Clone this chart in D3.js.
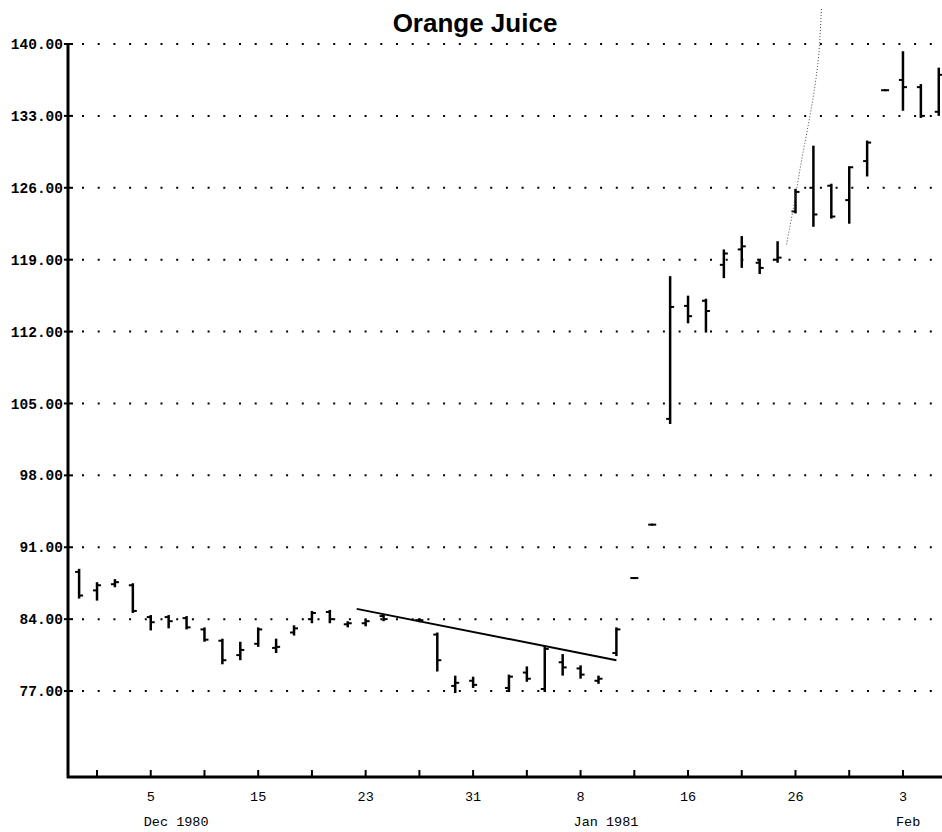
<!DOCTYPE html>
<html lang="en">
  <head>
    <meta charset="UTF-8" />
    <title>Orange Juice</title>
    <script src="https://d3js.org/d3.v7.min.js"></script>
    <style>
      body { margin: 0; background: #fff; }
      svg { display: block; }
    </style>
  </head>
  <body>
    <div id="chart"></div>
    <script>
      // trading days (weekday index from Mon Dec 1 1980)
      const days = [
        'Dec 1', 'Dec 2', 'Dec 3', 'Dec 4', 'Dec 5', 'Dec 8', 'Dec 9', 'Dec 10',
        'Dec 11', 'Dec 12', 'Dec 15', 'Dec 16', 'Dec 17', 'Dec 18', 'Dec 19',
        'Dec 22', 'Dec 23', 'Dec 24', 'Dec 26', 'Dec 29', 'Dec 30', 'Dec 31',
        'Jan 2', 'Jan 5', 'Jan 6', 'Jan 7', 'Jan 8', 'Jan 9', 'Jan 12', 'Jan 13',
        'Jan 14', 'Jan 15', 'Jan 16', 'Jan 19', 'Jan 20', 'Jan 21', 'Jan 22',
        'Jan 23', 'Jan 26', 'Jan 27', 'Jan 28', 'Jan 29', 'Jan 30', 'Feb 2',
        'Feb 3', 'Feb 4', 'Feb 5'
      ];
      const dayIndex = [
        0, 1, 2, 3, 4, 5, 6, 7, 8, 9, 10, 11, 12, 13, 14, 15, 16, 17, 19, 20,
        21, 22, 24, 25, 26, 27, 28, 29, 30, 31, 32, 33, 34, 35, 36, 37, 38, 39,
        40, 41, 42, 43, 44, 45, 46, 47, 48
      ];
      const open = [
        88.6, 86.8, 87.4, 87.3, 84.2, 84.2, 84.1, 83.0, 81.9, 80.5, 81.6, 81.2,
        82.7, 84.0, 84.7, 83.5, 83.6, 84.3, 83.9, 82.5, 77.5, 78.0, 77.3, 78.8,
        77.2, 79.8, 79.2, 78.0, 80.7, 88.0, 93.2, 103.5, 114.5, 115.0, 118.5,
        120.0, 118.7, 119.0, 123.7, 126.0, 126.2, 124.8, 128.6, 135.5, 136.5,
        135.8, 133.4
      ];
      const high = [
        88.8, 87.5, 87.8, 87.4, 84.3, 84.3, 84.2, 83.1, 82.0, 81.7, 83.1, 82.0,
        83.3, 84.7, 84.8, 83.7, 83.9, 84.4, 84.0, 82.6, 78.4, 78.3, 78.5, 79.3,
        81.3, 80.5, 79.4, 78.4, 83.1, 88.0, 93.2, 117.3, 115.4, 115.1, 119.9,
        121.2, 119.0, 120.7, 125.8, 130.0, 126.3, 128.0, 130.5, 135.5, 139.2,
        136.0, 137.6
      ];
      const low = [
        86.1, 85.9, 87.2, 84.7, 83.0, 83.2, 83.1, 81.9, 79.7, 80.1, 81.4, 80.8,
        82.5, 83.7, 83.7, 83.3, 83.4, 83.9, 83.8, 79.0, 76.9, 77.4, 77.0, 78.0,
        77.0, 78.6, 78.3, 77.8, 80.5, 88.0, 93.2, 103.1, 112.9, 112.0, 117.3,
        118.3, 117.7, 118.8, 123.6, 122.3, 123.1, 122.6, 127.2, 135.5, 133.6,
        132.9, 133.1
      ];
      const close = [
        86.3, 87.3, 87.6, 84.8, 83.7, 83.8, 83.2, 82.0, 80.0, 81.0, 83.0, 81.3,
        83.1, 84.6, 84.0, 83.6, 83.8, 84.0, 83.9, 80.0, 77.8, 77.6, 78.4, 78.2,
        81.1, 79.3, 78.6, 78.2, 83.0, 88.0, 93.2, 114.4, 113.5, 114.0, 119.6,
        120.3, 118.2, 119.2, 125.6, 123.4, 123.2, 128.0, 130.4, 135.5, 135.8,
        133.0, 137.0
      ];

      const yTicks = [140, 133, 126, 119, 112, 105, 98, 91, 84, 77];
      const xTickIndex = [1, 4, 7, 10, 13, 16, 19, 22, 25, 28, 31, 34, 37, 40, 43, 46];
      const xLabelIndex = [4, 10, 16, 22, 28, 34, 40, 46];
      const xLabels = ['5', '15', '23', '31', '8', '16', '26', '3'];
      const monthIndex = [4, 28, 46];
      const monthLabels = ['Dec 1980', 'Jan 1981', 'Feb'];

      // hand-drawn trend line and dotted curve
      const trendIndex = [15.5, 30];
      const trendValue = [85.0, 80.0];
      const curveIndex = [39.5, 39.9, 40.3, 40.7, 41.05, 41.3, 41.45];
      const curveValue = [120.5, 124.2, 128.3, 132.0, 135.5, 139.0, 143.5];

      const width = 942;
      const height = 832;

      const x = d3.scaleLinear().domain([-0.62, 48.18]).range([68, 942]);
      const y = d3.scaleLinear().domain([68.63, 140]).range([777, 44]);

      const svg = d3
        .select('#chart')
        .append('svg')
        .attr('width', width)
        .attr('height', height);

      svg
        .append('text')
        .attr('x', 475)
        .attr('y', 32)
        .attr('text-anchor', 'middle')
        .attr('font-family', 'Liberation Sans, Arial, sans-serif')
        .attr('font-weight', 'bold')
        .attr('font-size', 26)
        .text('Orange Juice');

      // dotted grid
      svg
        .append('g')
        .selectAll('line')
        .data(yTicks)
        .enter()
        .append('line')
        .attr('x1', 72)
        .attr('x2', width)
        .attr('y1', (d) => y(d))
        .attr('y2', (d) => y(d))
        .attr('stroke', '#000')
        .attr('stroke-width', 2)
        .attr('stroke-dasharray', '2,13.7')
        .attr('stroke-dashoffset', -10);

      // y axis
      const yAxis = svg.append('g');
      yAxis
        .append('line')
        .attr('x1', 68)
        .attr('x2', 68)
        .attr('y1', y(140) - 1)
        .attr('y2', 778)
        .attr('stroke', '#000')
        .attr('stroke-width', 3);
      yAxis
        .selectAll('line.tick')
        .data(yTicks)
        .enter()
        .append('line')
        .attr('class', 'tick')
        .attr('x1', 64)
        .attr('x2', 73)
        .attr('y1', (d) => y(d))
        .attr('y2', (d) => y(d))
        .attr('stroke', '#000')
        .attr('stroke-width', 2);
      yAxis
        .selectAll('text')
        .data(yTicks)
        .enter()
        .append('text')
        .attr('x', 63)
        .attr('y', (d) => y(d))
        .attr('dy', '0.35em')
        .attr('text-anchor', 'end')
        .attr('font-family', 'Liberation Mono, Courier New, monospace')
        .attr('font-weight', 'bold')
        .attr('font-size', 14.5)
        .text((d) => d3.format('.2f')(d));

      // x axis
      const xAxis = svg.append('g');
      xAxis
        .append('line')
        .attr('x1', 67)
        .attr('x2', width)
        .attr('y1', 777)
        .attr('y2', 777)
        .attr('stroke', '#000')
        .attr('stroke-width', 3);
      xAxis
        .selectAll('line.tick')
        .data(xTickIndex)
        .enter()
        .append('line')
        .attr('class', 'tick')
        .attr('x1', (d) => x(d))
        .attr('x2', (d) => x(d))
        .attr('y1', 770)
        .attr('y2', 777)
        .attr('stroke', '#000')
        .attr('stroke-width', 2);
      xAxis
        .selectAll('text.day')
        .data(xLabelIndex)
        .enter()
        .append('text')
        .attr('class', 'day')
        .attr('x', (d) => x(d))
        .attr('y', 801)
        .attr('text-anchor', 'middle')
        .attr('font-family', 'Liberation Mono, Courier New, monospace')
        .attr('font-size', 13.5)
        .text((d, i) => xLabels[i]);
      xAxis
        .selectAll('text.month')
        .data(monthIndex)
        .enter()
        .append('text')
        .attr('class', 'month')
        .attr('x', (d) => x(d) - 7)
        .attr('y', 826)
        .attr('font-family', 'Liberation Mono, Courier New, monospace')
        .attr('font-size', 13.5)
        .text((d, i) => monthLabels[i]);

      // OHLC bars
      const bars = days.map((d, i) => ({
        day: d,
        i: dayIndex[i],
        o: open[i],
        h: high[i],
        l: low[i],
        c: close[i],
      }));

      const bar = svg
        .append('g')
        .selectAll('g')
        .data(bars)
        .enter()
        .append('g');

      bar
        .append('line')
        .attr('x1', (d) => x(d.i))
        .attr('x2', (d) => x(d.i))
        .attr('y1', (d) => y(d.h) - 1)
        .attr('y2', (d) => y(d.l) + 1)
        .attr('stroke', '#000')
        .attr('stroke-width', 2.5);
      bar
        .append('line')
        .attr('x1', (d) => x(d.i) - 4)
        .attr('x2', (d) => x(d.i))
        .attr('y1', (d) => y(d.o))
        .attr('y2', (d) => y(d.o))
        .attr('stroke', '#000')
        .attr('stroke-width', 2);
      bar
        .append('line')
        .attr('x1', (d) => x(d.i))
        .attr('x2', (d) => x(d.i) + 4)
        .attr('y1', (d) => y(d.c))
        .attr('y2', (d) => y(d.c))
        .attr('stroke', '#000')
        .attr('stroke-width', 2);

      // trend line
      svg
        .append('line')
        .attr('x1', x(trendIndex[0]))
        .attr('y1', y(trendValue[0]))
        .attr('x2', x(trendIndex[1]))
        .attr('y2', y(trendValue[1]))
        .attr('stroke', '#000')
        .attr('stroke-width', 2);

      // dotted curve
      const curvePts = curveIndex.map((d, i) => [x(d), y(curveValue[i])]);
      svg
        .append('path')
        .attr('d', d3.line().curve(d3.curveCatmullRom)(curvePts))
        .attr('fill', 'none')
        .attr('stroke', '#444')
        .attr('stroke-width', 1)
        .attr('stroke-dasharray', '1,2');
    </script>
  </body>
</html>
